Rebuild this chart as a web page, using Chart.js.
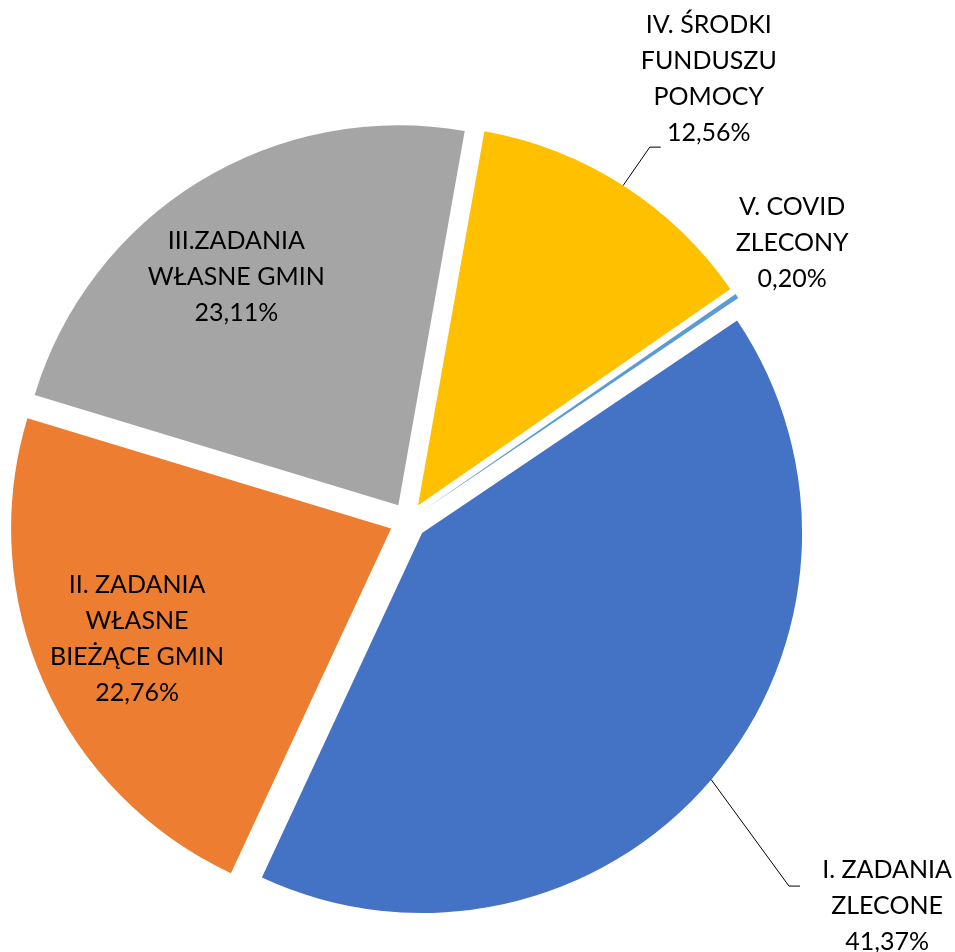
<!DOCTYPE html>
<html>
<head>
<meta charset="utf-8">
<script src="https://cdn.jsdelivr.net/npm/chart.js@4/dist/chart.umd.min.js"></script>
<style>
  html, body { margin: 0; padding: 0; background: #ffffff; }
  #wrap { width: 955px; height: 952px; position: relative; }
</style>
</head>
<body>
<div id="wrap"><canvas id="c"></canvas></div>
<script>
// ---- data ----
const categories = [
  'I. ZADANIA ZLECONE',
  'II. ZADANIA WŁASNE BIEŻĄCE GMIN',
  'III.ZADANIA WŁASNE GMIN',
  'IV. ŚRODKI FUNDUSZU POMOCY',
  'V. COVID ZLECONY'
];
const labelLines = [
  ['I. ZADANIA', 'ZLECONE'],
  ['II. ZADANIA', 'WŁASNE', 'BIEŻĄCE GMIN'],
  ['III.ZADANIA', 'WŁASNE GMIN'],
  ['IV. ŚRODKI', 'FUNDUSZU', 'POMOCY'],
  ['V. COVID', 'ZLECONY']
];
const values = [41.37, 22.76, 23.11, 12.56, 0.20];
const colors = ['#4472C4', '#ED7D31', '#A5A5A5', '#FFC000', '#5B9BD5'];

// ---- styling / placement (relative to each slice's geometry) ----
const EXPLODE = 18.5;          // px each slice is pulled out
const FONT = '25px Lato';
const LINE_H = 36;
// label centre: angle (deg clockwise from 12 o'clock) and distance as fraction of radius, from slice apex
const labelPlace = [
  { angle: 128.7, dist: 1.568, leader: { angle: 133.9, dist: 1.340, len: 11 } },
  { angle: 246.5, dist: 0.729 },
  { angle: 324.6, dist: 0.736 },
  { angle: 34.3,  dist: 1.358, leader: { angle: 32.9, dist: 1.123, len: 11 } },
  { angle: 54.0,  dist: 1.200 }
];

function fmtPct(v) { return v.toFixed(2).replace('.', ',') + '%'; }

const explodePlugin = {
  id: 'explode',
  beforeDatasetDraw(chart, args) {
    const ctx = chart.ctx;
    args.meta.data.forEach(arc => {
      const mid = (arc.startAngle + arc.endAngle) / 2;
      ctx.save();
      ctx.translate(Math.cos(mid) * EXPLODE, Math.sin(mid) * EXPLODE);
      arc.draw(ctx);
      ctx.restore();
    });
    return false;
  }
};

const labelPlugin = {
  id: 'sliceLabels',
  afterDatasetsDraw(chart) {
    const ctx = chart.ctx;
    const meta = chart.getDatasetMeta(0);
    meta.data.forEach((arc, i) => {
      const mid = (arc.startAngle + arc.endAngle) / 2;
      const ax = arc.x + Math.cos(mid) * EXPLODE;
      const ay = arc.y + Math.sin(mid) * EXPLODE;
      const r = arc.outerRadius;
      const p = labelPlace[i];
      const toXY = (degTop, f) => {
        const a = (degTop - 90) * Math.PI / 180;
        return [ax + Math.cos(a) * r * f, ay + Math.sin(a) * r * f];
      };
      if (p.leader) {
        const sx = ax + Math.cos(mid) * r, sy = ay + Math.sin(mid) * r;
        const [ex, ey] = toXY(p.leader.angle, p.leader.dist);
        ctx.save();
        ctx.strokeStyle = '#000000';
        ctx.lineWidth = 1;
        ctx.beginPath();
        ctx.moveTo(sx, sy);
        ctx.lineTo(ex, ey);
        ctx.lineTo(ex + p.leader.len, ey);
        ctx.stroke();
        ctx.restore();
      }
      const lines = labelLines[i].concat([fmtPct(values[i])]);
      const [cx, cy] = toXY(p.angle, p.dist);
      ctx.save();
      ctx.font = FONT;
      ctx.fillStyle = '#000000';
      ctx.textAlign = 'center';
      ctx.textBaseline = 'middle';
      const top = cy - (lines.length - 1) * LINE_H / 2;
      lines.forEach((t, k) => ctx.fillText(t, cx, top + k * LINE_H));
      ctx.restore();
    });
  }
};

new Chart(document.getElementById('c'), {
  type: 'pie',
  data: {
    labels: categories,
    datasets: [{
      data: values,
      backgroundColor: colors,
      borderWidth: 0,
      radius: 380,
      rotation: 56
    }]
  },
  options: {
    responsive: true,
    maintainAspectRatio: false,
    animation: false,
    layout: { padding: { left: 0, right: 139, top: 90, bottom: 0 } },
    plugins: {
      legend: { display: false },
      tooltip: { enabled: false }
    }
  },
  plugins: [explodePlugin, labelPlugin]
});
</script>
</body>
</html>
